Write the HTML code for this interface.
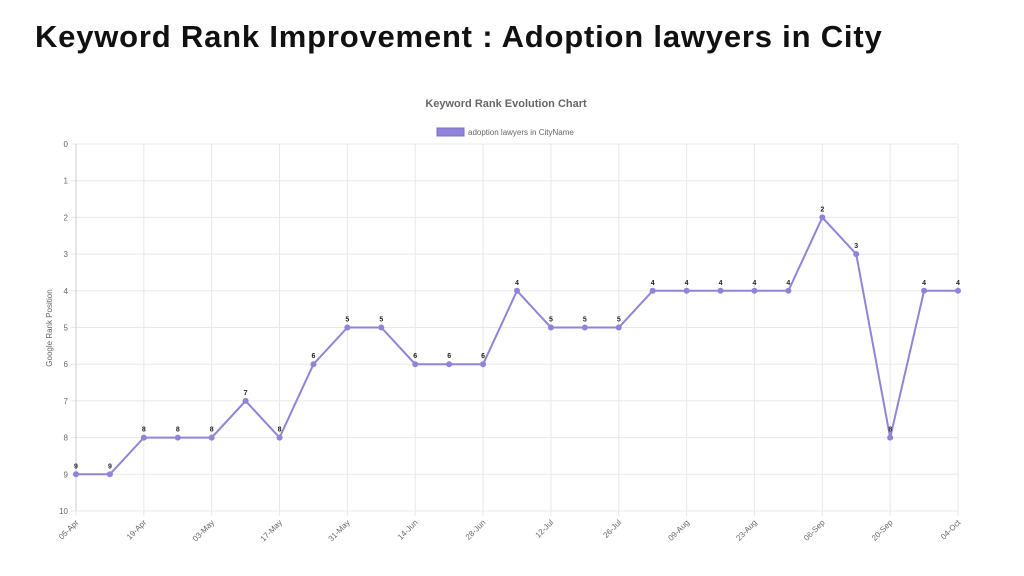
<!DOCTYPE html>
<html><head><meta charset="utf-8"><style>
body{margin:0;width:1024px;height:576px;background:#fff;font-family:"Liberation Sans",sans-serif;overflow:hidden}
h1{position:absolute;left:35px;top:19px;margin:0;font-size:31px;font-weight:bold;color:#111;letter-spacing:0.8px}
</style></head><body>
<h1>Keyword Rank Improvement : Adoption lawyers in City</h1>
<svg id="c" width="1024" height="576" style="position:absolute;left:0;top:0"></svg>
<script>
const categories=["05-Apr","12-Apr","19-Apr","26-Apr","03-May","10-May","17-May","24-May","31-May","07-Jun","14-Jun","21-Jun","28-Jun","05-Jul","12-Jul","19-Jul","26-Jul","02-Aug","09-Aug","16-Aug","23-Aug","30-Aug","06-Sep","13-Sep","20-Sep","27-Sep","04-Oct"];
const ranks=[9,9,8,8,8,7,8,6,5,5,6,6,6,4,5,5,5,4,4,4,4,4,2,3,8,4,4];
const yTicks=[0,1,2,3,4,5,6,7,8,9,10];
const svg=document.getElementById('c');const NS='http://www.w3.org/2000/svg';
const L=76,R=958,T=144,B=511;
const xs=i=>L+(R-L)*i/(categories.length-1);
const ys=v=>T+(B-T)*v/10;
function el(t,a,p){const e=document.createElementNS(NS,t);for(const k in a)e.setAttribute(k,a[k]);(p||svg).appendChild(e);return e;}
let t=el('text',{x:506,y:107,'text-anchor':'middle','font-size':11,'font-weight':'bold',fill:'#666'});t.textContent='Keyword Rank Evolution Chart';

let lg=el('rect',{x:437,y:128,width:27,height:8,fill:'#8f84d8',stroke:'#7a6fcc'});

t=el('text',{x:468,y:135,'font-size':8,fill:'#666'});t.textContent='adoption lawyers in CityName';

yTicks.forEach(v=>{const g=el('line',{x1:L-5,x2:R,y1:ys(v),y2:ys(v),stroke:'#e8e8e8'});

const tx=el('text',{x:L-8,y:ys(v)+3,'text-anchor':'end','font-size':8,fill:'#666'});tx.textContent=v;
});
categories.forEach((c,i)=>{if(i%2)return;const x=xs(i);
const g=el('line',{x1:x,x2:x,y1:T,y2:B+5,stroke:'#e8e8e8'});

const tx=el('text',{x:x+3,y:B+12,'text-anchor':'end','font-size':8,fill:'#666',transform:`rotate(-45 ${x+3} ${B+12})`});tx.textContent=c;
});
el('line',{x1:L,x2:L,y1:T,y2:B,stroke:'#ccc'});
t=el('text',{x:52,y:328,'text-anchor':'middle','font-size':8,fill:'#666',transform:'rotate(-90 52 328)'});t.textContent='Google Rank Position';

const pl=el('polyline',{points:ranks.map((v,i)=>xs(i)+','+ys(v)).join(' '),fill:'none',stroke:'#8f84d8','stroke-width':2});

ranks.forEach((v,i)=>{const p=el('circle',{cx:xs(i),cy:ys(v),r:3,fill:'#8f84d8'});

const tx=el('text',{x:xs(i),y:ys(v)-6,'text-anchor':'middle','font-size':7,'font-weight':'bold',fill:'#222'});tx.textContent=v;
});
</script>
</body></html>
